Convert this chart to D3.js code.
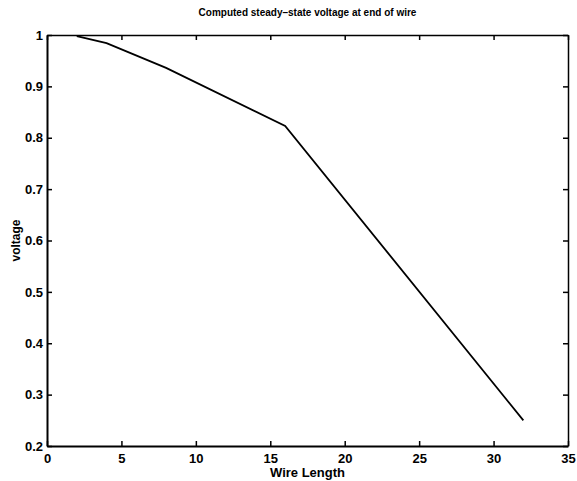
<!DOCTYPE html>
<head>
  <meta charset="utf-8">
  <script src="https://d3js.org/d3.v7.min.js"></script>
<style>
body { margin:0; background:#fff; }
text { font-family: "Liberation Sans", Arial, sans-serif; fill:#000; }
.tick text { font-size: 13px; font-weight: bold; }
.frame line, .frame path { stroke:#000; }
</style>
</head>

<body>
<script>
// wire length vs computed voltage
var lengths = [2, 4, 8, 16, 32];
var voltages = [0.998, 0.984, 0.936, 0.823, 0.25];

var xTicks = [0, 5, 10, 15, 20, 25, 30, 35];
var yTicks = [0.2, 0.3, 0.4, 0.5, 0.6, 0.7, 0.8, 0.9, 1];

var W = 577, H = 481;
var margin = {top: 35, right: 9, bottom: 35, left: 47},
    width = W - margin.left - margin.right,
    height = H - margin.top - margin.bottom;

var x = d3.scaleLinear().domain([0, 35]).range([0, width]);
var y = d3.scaleLinear().domain([0.2, 1]).range([height, 0]);

var svg = d3.select("body").append("svg")
    .attr("width", W)
    .attr("height", H);

var g = svg.append("g")
    .attr("transform", "translate(" + margin.left + "," + margin.top + ")");

// bottom + left axes, ticks pointing in (matlab style)
var fmt = d3.format("");
g.append("g")
    .attr("class", "frame")
    .attr("transform", "translate(0," + height + ")")
    .call(d3.axisBottom(x).tickValues(xTicks).tickFormat(fmt).tickSizeInner(-5).tickSizeOuter(0).tickPadding(8))
    .call(a => a.select(".domain").attr("stroke-width", 2));

g.append("g")
    .attr("class", "frame")
    .call(d3.axisLeft(y).tickValues(yTicks).tickFormat(fmt).tickSizeInner(-5).tickSizeOuter(0).tickPadding(4))
    .call(a => a.select(".domain").attr("stroke-width", 2));

// top + right, no labels
g.append("g")
    .attr("class", "frame")
    .call(d3.axisTop(x).tickValues(xTicks).tickFormat("").tickSizeInner(-5).tickSizeOuter(0))
    .call(a => a.select(".domain").attr("stroke-width", 1.5));

g.append("g")
    .attr("class", "frame")
    .attr("transform", "translate(" + width + ",0)")
    .call(d3.axisRight(y).tickValues(yTicks).tickFormat("").tickSizeInner(-5).tickSizeOuter(0))
    .call(a => a.select(".domain").attr("stroke-width", 1.5));

g.selectAll(".tick line").attr("stroke-width", 1.5);

// the curve
var line = d3.line()
    .x((d, i) => x(lengths[i]))
    .y(d => y(d));

g.append("path")
    .datum(voltages)
    .attr("fill", "none")
    .attr("stroke", "#000")
    .attr("stroke-width", 1.8)
    .attr("d", line);

// labels
svg.append("text")
    .attr("x", margin.left + width / 2)
    .attr("y", 16)
    .attr("text-anchor", "middle")
    .style("font-size", "10px")
    .style("font-weight", "bold")
    .text("Computed steady\u2013state voltage at end of wire");

svg.append("text")
    .attr("x", margin.left + width / 2)
    .attr("y", 477)
    .attr("text-anchor", "middle")
    .style("font-size", "13px")
    .style("font-weight", "bold")
    .text("Wire Length");

svg.append("text")
    .attr("transform", "translate(20," + (margin.top + height / 2) + ") rotate(-90)")
    .attr("text-anchor", "middle")
    .style("font-size", "12px")
    .style("font-weight", "bold")
    .text("voltage");
</script>
</body>
